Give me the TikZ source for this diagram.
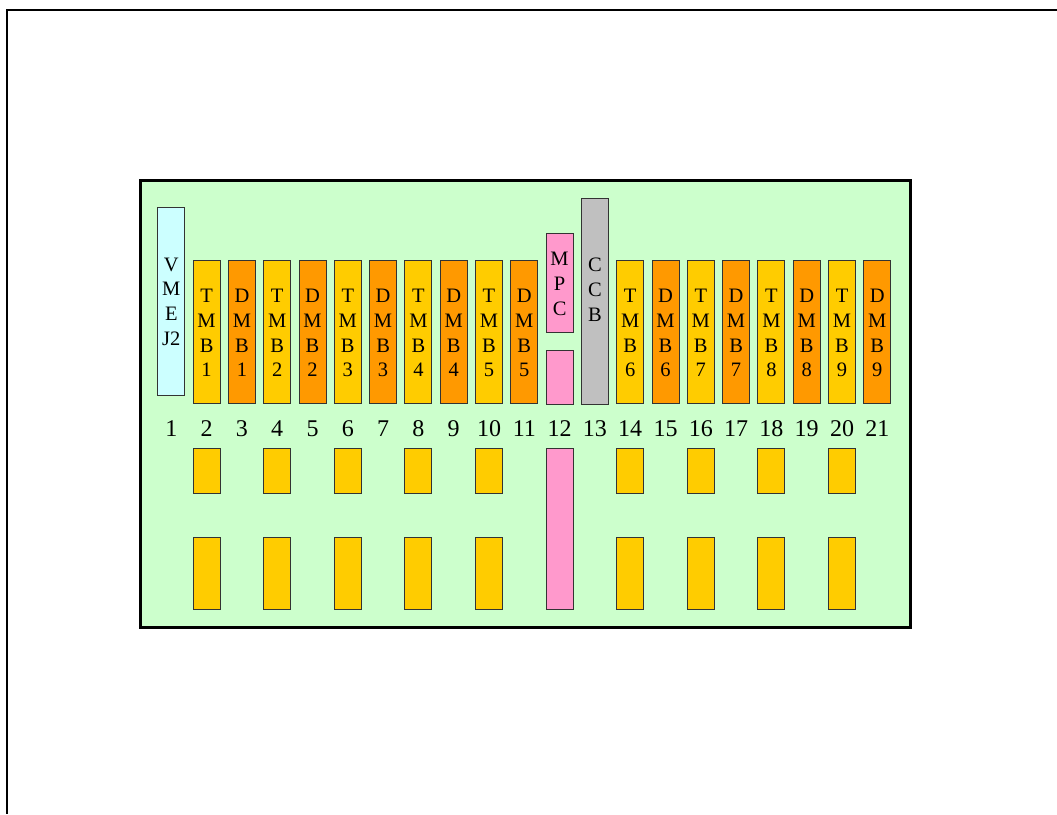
\documentclass[tikz,border=0pt]{standalone}
\usepackage{fontspec}
\setmainfont{Liberation Serif}
\definecolor{boardgreen}{HTML}{CCFFCC}
\definecolor{vmecyan}{HTML}{CCFFFF}
\definecolor{tmbyellow}{HTML}{FFCC00}
\definecolor{dmborange}{HTML}{FF9900}
\definecolor{mpcpink}{HTML}{FF99CC}
\definecolor{ccbgray}{HTML}{C0C0C0}
\tikzset{
  slotbox/.style={draw=black!80, line width=1pt, inner sep=0pt, minimum width=27pt},
  slottext/.style={inner sep=0pt, align=center, font=\fontsize{20.5}{24.8}\selectfont},
  numtext/.style={inner sep=0pt, anchor=base, font=\fontsize{24}{24}\selectfont},
}
\begin{document}
\begin{tikzpicture}[x=1pt,y=-1pt]
\useasboundingbox (0,0) rectangle (1057,814);
% outer frame (clipped at right and bottom)
\draw[line width=2.4pt] (1057,10) -- (7,10) -- (7,814);
% board
\node[draw=black, line width=3pt, fill=boardgreen, inner sep=0pt, minimum width=770pt, minimum height=447pt] (board) at (525,403.5) {};
% slot 1: VME J2
\node[slotbox, fill=vmecyan, minimum height=187.5pt] (s1) at (171.3,301.7) {};
\node[slottext] (t1) at (s1.center) {V\\M\\E\\J2};
% TMB / DMB slots
\foreach \k/\tn/\dn in {1/2/3,2/4/5,3/6/7,4/8/9,5/10/11,6/14/15,7/16/17,8/18/19,9/20/21}{
  \pgfmathsetmacro{\xt}{171.3+(\tn-1)*35.3}
  \pgfmathsetmacro{\xd}{171.3+(\dn-1)*35.3}
  \node[slotbox, fill=tmbyellow, minimum height=143pt] (s\tn) at (\xt,332) {};
  \node[slottext] (t\tn) at (\xt,333) {T\\M\\B\\\k};
  \node[slotbox, fill=dmborange, minimum height=143pt] (s\dn) at (\xd,332) {};
  \node[slottext] (t\dn) at (\xd,333) {D\\M\\B\\\k};
  % rear connectors
  \node[slotbox, fill=tmbyellow, minimum height=44.7pt] (ra\tn) at (\xt,470.7) {};
  \node[slotbox, fill=tmbyellow, minimum height=72pt] (rb\tn) at (\xt,573.3) {};
}
% slot 12: MPC
\node[slotbox, fill=mpcpink, minimum height=99pt] (s12) at (559.6,283) {};
\node[slottext] (t12) at (559.6,284) {M\\P\\C};
\node[slotbox, fill=mpcpink, minimum height=54pt] (s12b) at (559.6,377) {};
\node[slotbox, fill=mpcpink, minimum height=161pt] (r12) at (559.6,528.8) {};
% slot 13: CCB
\node[slotbox, fill=ccbgray, minimum height=206pt] (s13) at (594.9,301) {};
\node[slottext] (t13) at (594.9,290) {C\\C\\B};
% slot numbers
\foreach \n in {1,...,21}{
  \pgfmathsetmacro{\xn}{171.3+(\n-1)*35.3}
  \node[numtext] (n\n) at (\xn,436) {\n};
}
\end{tikzpicture}
\end{document}
